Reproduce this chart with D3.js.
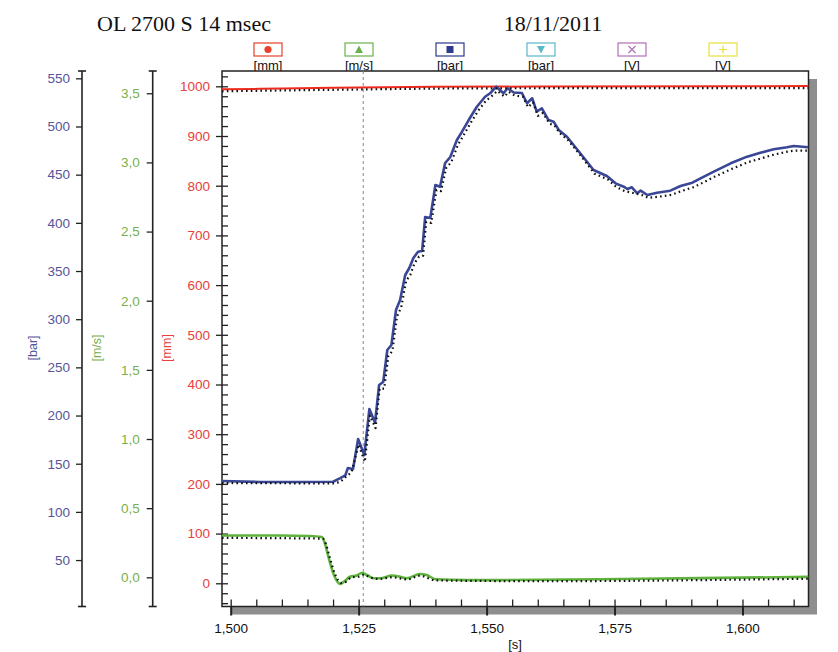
<!DOCTYPE html>
<html><head><meta charset="utf-8">
<script src="https://cdn.jsdelivr.net/npm/d3@7"></script>
<style>
body{margin:0;background:#fff;}
svg{display:block;font-family:"Liberation Sans",Arial,sans-serif;}
</style></head>
<body><svg id="c" width="838" height="652"></svg>
<script>
// ---------- data ----------
const titleLeft = "OL 2700 S 14 msec";
const titleRight = "18/11/2011";
const legendUnits = ["[mm]", "[m/s]", "[bar]", "[bar]", "[V]", "[V]"];
const legendColors = ["#e8402c", "#6ab04c", "#2e3a8c", "#5ab8c8", "#b070b8", "#e6e040"];
const legendSymbols = ["circle", "triangle", "square", "triangleDown", "cross", "plus"];

const xTicks = [1.500, 1.525, 1.550, 1.575, 1.600];
const mmTicks = [0, 100, 200, 300, 400, 500, 600, 700, 800, 900, 1000];
const msTicks = [0.0, 0.5, 1.0, 1.5, 2.0, 2.5, 3.0, 3.5];
const barTicks = [50, 100, 150, 200, 250, 300, 350, 400, 450, 500, 550];
const markerTime = 1.5259;

// red [mm]
const redTime = [1.4983, 1.5100, 1.5200, 1.5400, 1.5600, 1.6129];
const redMm   = [994, 995.5, 997, 999, 999.5, 1000.5];
const simRedTime = [1.4983, 1.5200, 1.5500, 1.6129];
const simRedMm   = [990, 993, 996, 996.5];

// green [m/s]
const greenTime = [1.4983,1.5096,1.5155,1.5178,1.5184,1.5191,1.5201,1.5214,1.5224,1.5233,1.5246,1.5256,1.5266,1.5279,1.5292,1.5315,1.5331,1.5344,1.5370,1.5383,1.5400,1.5462,1.5527,1.5722,1.5918,1.6129];
const greenMs   = [0.302,0.302,0.299,0.291,0.246,0.147,0.024,-0.048,-0.023,0.004,0.013,0.031,0.017,-0.007,-0.007,0.012,0.004,-0.007,0.024,0.017,-0.014,-0.020,-0.020,-0.014,-0.006,0.003];
const simGreenTime = [1.4983,1.5180,1.5186,1.5193,1.5203,1.5216,1.5226,1.5236,1.5250,1.5260,1.5272,1.5290,1.5315,1.5345,1.5370,1.5400,1.5600,1.6129];
const simGreenMs   = [0.285,0.28,0.24,0.15,0.03,-0.04,-0.03,0.0,0.005,0.02,0.0,-0.012,0.0,-0.015,0.012,-0.022,-0.028,-0.010];

// blue [bar]
const blueTime = [1.4983,1.5057,1.5136,1.5200,1.5214,1.5224,1.5229,1.5239,1.5249,1.5261,1.5271,1.5282,1.5290,1.5298,1.5306,1.5314,1.5323,1.5331,1.5341,1.5349,1.5357,1.5366,1.5374,1.5380,1.5390,1.5400,1.5409,1.5419,1.5429,1.5442,1.5452,1.5465,1.5481,1.5497,1.5507,1.5519,1.5533,1.5541,1.5553,1.5569,1.5579,1.5589,1.5598,1.5608,1.5621,1.5631,1.5641,1.5657,1.5683,1.5709,1.5735,1.5752,1.5768,1.5775,1.5784,1.5794,1.5801,1.5814,1.5833,1.5859,1.5879,1.5902,1.5918,1.5944,1.5977,1.6009,1.6035,1.6061,1.6087,1.6100,1.6129];
const blueBar  = [132,131,131,131.3,135,138,145.5,144.5,175.6,159,206.8,192.5,231.7,234.8,268,273.2,309.5,319.9,345.9,353.1,363.5,370,370.8,406.1,405,439.3,437.5,462.1,468.3,486,494.6,506.7,520.5,530.9,534.5,541.3,534.5,539.7,535.3,534.8,524.1,529.3,515.4,518.9,506.7,505,496.4,489.4,472.2,454.8,448.6,441,437.5,435.1,436.9,430.7,433.4,428.9,431.3,433.4,438.2,441.7,446.2,453.1,461.8,468.7,472.8,476.3,478.4,479.8,478.4];
const simBlueTime = [1.4983,1.5200,1.5214,1.5224,1.5236,1.5250,1.5262,1.5272,1.5283,1.5291,1.5300,1.5308,1.5316,1.5325,1.5333,1.5343,1.5351,1.5359,1.5368,1.5376,1.5382,1.5392,1.5402,1.5411,1.5421,1.5431,1.5444,1.5454,1.5467,1.5483,1.5499,1.5509,1.5521,1.5535,1.5543,1.5555,1.5571,1.5581,1.5591,1.5600,1.5610,1.5623,1.5633,1.5643,1.5659,1.5685,1.5711,1.5737,1.5754,1.5770,1.5786,1.5803,1.5816,1.5835,1.5861,1.5881,1.5904,1.5920,1.5946,1.5979,1.6011,1.6037,1.6063,1.6089,1.6102,1.6129];
const simBlueBar  = [130,129.5,131,136,141,170,152,200,187,228,228,262,267,303,312,340,346,358,365,366,401,400,434,433,457,463,481,490,502,516,527,531,537,531,536,532,531,520,525,511,514,503,501,493,486,469,451,445,437,433,431,429,426,427,429,433,437,441,448,456,463,467,471,474,475,475];

// ---------- layout ----------
const svg = d3.select("#c");
const L = 222, R = 808.5, T = 71, B = 606.5;
const loc = d3.formatLocale({decimal: ",", thousands: ".", grouping: [3], currency: ["", ""]});

const x = d3.scaleLinear().domain([1.4983, 1.6129]).range([L, R]);
const yMm = d3.scaleLinear().domain([-46.7, 1030.8]).range([B, T]);
const yMs = d3.scaleLinear().domain([-0.211, 3.661]).range([B, T]);
const yBar = d3.scaleLinear().domain([1.8, 557.6]).range([B, T]);

// titles
svg.append("text").attr("x", 97).attr("y", 31).text(titleLeft)
  .attr("font-family", "'Liberation Serif','Times New Roman',serif").attr("font-size", 22).attr("fill", "#111");
svg.append("text").attr("x", 553).attr("y", 31).attr("text-anchor", "middle").text(titleRight)
  .attr("font-family", "'Liberation Serif','Times New Roman',serif").attr("font-size", 22).attr("fill", "#111");

// legend
const lx = d3.scalePoint().domain(d3.range(legendUnits.length)).range([268, 723]);
const lg = svg.append("g");
legendUnits.forEach((u, i) => {
  const cx = lx(i), cy = 49.5, c = legendColors[i];
  lg.append("rect").attr("x", cx - 14).attr("y", 43).attr("width", 28).attr("height", 13)
    .attr("fill", "#fff").attr("stroke", c).attr("stroke-width", 1.2);
  const s = legendSymbols[i];
  if (s === "circle") lg.append("circle").attr("cx", cx).attr("cy", cy).attr("r", 3.6).attr("fill", c);
  else if (s === "square") lg.append("rect").attr("x", cx - 3.5).attr("y", cy - 3.5).attr("width", 7).attr("height", 7).attr("fill", c);
  else if (s === "triangle") lg.append("path").attr("d", `M${cx},${cy-4}L${cx+4},${cy+3.5}L${cx-4},${cy+3.5}Z`).attr("fill", c);
  else if (s === "triangleDown") lg.append("path").attr("d", `M${cx},${cy+4}L${cx+4},${cy-3.5}L${cx-4},${cy-3.5}Z`).attr("fill", c);
  else if (s === "cross") lg.append("path").attr("d", `M${cx-3.5},${cy-3.5}L${cx+3.5},${cy+3.5}M${cx+3.5},${cy-3.5}L${cx-3.5},${cy+3.5}`).attr("stroke", c).attr("stroke-width", 1.2);
  else lg.append("path").attr("d", `M${cx-4},${cy}L${cx+4},${cy}M${cx},${cy-4}L${cx},${cy+4}`).attr("stroke", c).attr("stroke-width", 1.2);
  lg.append("text").attr("x", cx).attr("y", 69.5).attr("text-anchor", "middle")
    .attr("font-size", 13).attr("fill", "#111").text(u);
});

// frame with shadow
svg.append("rect").attr("x", L + 8.5).attr("y", T + 8).attr("width", R - L).attr("height", B - T).attr("fill", "#8e8e8e");
svg.append("rect").attr("x", L).attr("y", T).attr("width", R - L).attr("height", B - T)
  .attr("fill", "#fff").attr("stroke", "#222").attr("stroke-width", 1.5);

// clip
svg.append("defs").append("clipPath").attr("id", "clip").append("rect")
  .attr("x", L).attr("y", T).attr("width", R - L).attr("height", B - T);

// marker line
svg.append("line").attr("x1", x(markerTime)).attr("x2", x(markerTime)).attr("y1", T).attr("y2", B)
  .attr("stroke", "#888").attr("stroke-width", 1).attr("stroke-dasharray", "3,3");

function styleAxis(g, color, fs) {
  g.selectAll("text").attr("fill", color).attr("font-size", fs).attr("font-family", "'Liberation Sans',Arial,sans-serif");
  g.selectAll("line").attr("stroke", "#222").attr("stroke-width", 1.3);
  g.select(".domain").remove();
}

// bar axis
const gBar = svg.append("g").attr("transform", "translate(82,0)")
  .call(d3.axisLeft(yBar).tickValues(barTicks).tickSize(6).tickPadding(6).tickFormat(d3.format("d")));
styleAxis(gBar, "#55559a", 13.5);
// m/s axis
const gMs = svg.append("g").attr("transform", "translate(152.7,0)")
  .call(d3.axisLeft(yMs).tickValues(msTicks).tickSize(6).tickPadding(7).tickFormat(loc.format(".1f")));
styleAxis(gMs, "#78b04c", 13.5);
[82, 152.7].forEach(ax => {
  svg.append("line").attr("x1", ax).attr("x2", ax).attr("y1", T).attr("y2", B).attr("stroke", "#222").attr("stroke-width", 1.6);
  [T, B].forEach(yy => svg.append("line").attr("x1", ax - 4).attr("x2", ax + 4).attr("y1", yy).attr("y2", yy).attr("stroke", "#222").attr("stroke-width", 1.6));
});
// mm axis
const gMm = svg.append("g").attr("transform", `translate(${L},0)`)
  .call(d3.axisLeft(yMm).tickValues(mmTicks).tickSize(6).tickPadding(6).tickFormat(d3.format("d")));
styleAxis(gMm, "#e8403c", 13.5);
const gMmIn = svg.append("g").attr("transform", `translate(${L},0)`)
  .call(d3.axisRight(yMm).tickValues(d3.range(-40, 1030, 20)).tickSize(6).tickFormat(""));
styleAxis(gMmIn, "#222", 1);

// axis titles
[["[bar]", 37, "#55559a"], ["[m/s]", 101, "#78b04c"], ["[mm]", 171, "#e8403c"]].forEach(([t, xx, c]) => {
  svg.append("text").attr("transform", `translate(${xx},348) rotate(-90)`).attr("text-anchor", "middle")
    .attr("font-size", 12.5).attr("fill", c).text(t);
});

// x axis
const gX = svg.append("g").attr("transform", `translate(0,${B})`)
  .call(d3.axisBottom(x).tickValues(xTicks).tickSize(9).tickPadding(8).tickFormat(loc.format(".3f")));
styleAxis(gX, "#111", 13.5);
gX.selectAll("line").attr("stroke-width", 2);
const gXin = svg.append("g").attr("transform", `translate(0,${B})`)
  .call(d3.axisTop(x).tickValues(d3.range(1500, 1611, 5).map(v => v / 1000)).tickSize(7).tickFormat(""));
styleAxis(gXin, "#222", 1);
svg.append("text").attr("x", 515).attr("y", 649).attr("text-anchor", "middle").attr("font-size", 13).attr("fill", "#111").text("[s]");

// series
const plot = svg.append("g").attr("clip-path", "url(#clip)");
function drawLine(ts, vs, ys, color, w, dotted, curve) {
  const data = ts.map((t, i) => [t, vs[i]]);
  const line = d3.line().x(d => x(d[0])).y(d => ys(d[1])).curve(curve || d3.curveLinear);
  const p = plot.append("path").datum(data).attr("d", line).attr("fill", "none")
    .attr("stroke", color).attr("stroke-width", w).attr("stroke-linejoin", "round");
  if (dotted) p.attr("stroke-dasharray", "1.6,3.2");
}
drawLine(redTime, redMm, yMm, "#ee2a1e", 2, false, d3.curveMonotoneX);
drawLine(greenTime, greenMs, yMs, "#5fb23e", 2.6, false, d3.curveMonotoneX);
drawLine(blueTime, blueBar, yBar, "#3a4796", 2.6, false, d3.curveLinear);
drawLine(simRedTime, simRedMm, yMm, "#111", 2.2, true, d3.curveMonotoneX);
drawLine(simGreenTime, simGreenMs, yMs, "#111", 2.2, true, d3.curveMonotoneX);
drawLine(simBlueTime, simBlueBar, yBar, "#111", 2.2, true, d3.curveLinear);
</script></body></html>
